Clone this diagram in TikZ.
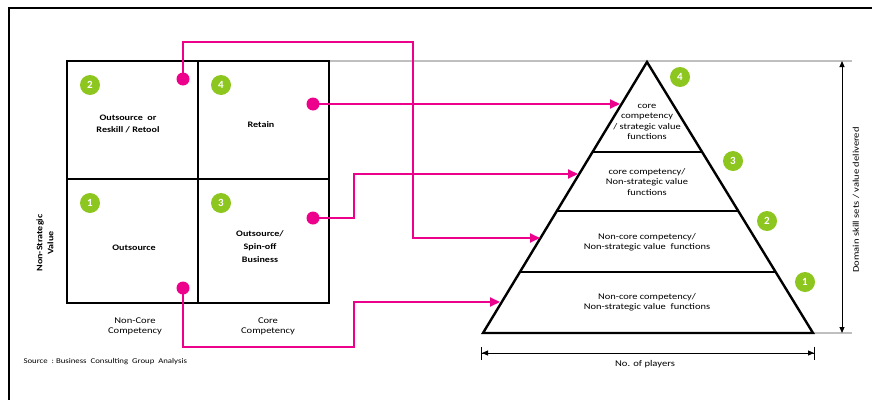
\documentclass[tikz,border=0pt]{standalone}
\usepackage{fontspec}
\setmainfont[FakeStretch=1.2]{Carlito}
\newfontfamily\badgefont{Carlito}
\usetikzlibrary{arrows.meta}
\definecolor{mag}{RGB}{236,0,140}
\definecolor{grn}{RGB}{140,198,30}
\begin{document}
\begin{tikzpicture}[x=1pt,y=-1pt,
  frame/.style={draw=black,line width=2.2pt},
  box/.style={draw=black,line width=2.6pt},
  pyr/.style={draw=black,line width=2.4pt,line join=miter},
  guide/.style={draw=black!25,line width=1.2pt},
  badge/.style={circle,fill=grn,text=white,inner sep=0pt,minimum size=20pt,font=\badgefont\fontsize{11}{12}\selectfont\bfseries},
  dot/.style={circle,fill=mag,inner sep=0pt,minimum size=13pt},
  link/.style={draw=mag,line width=1.8pt,-{Triangle[length=10pt,width=9pt]}},
  qtext/.style={align=center,font=\fontsize{8.4}{12.5}\selectfont\bfseries},
  ptext/.style={align=center,font=\fontsize{8.7}{10.5}\selectfont},
  ltext/.style={align=center,font=\fontsize{8.8}{10}\selectfont},
  dim/.style={draw=black,line width=1pt}
]
\useasboundingbox (0,0) rectangle (872,399);
\begin{scope}
  \clip (0,0) rectangle (872,399);
  \draw[frame] (9,8) rectangle (900,430);
\end{scope}

% matrix
\draw[guide] (329,61) -- (852,61);
\draw[guide] (813,333) -- (852,333);
\draw[box] (67,61) rectangle (329,303);
\draw[box] (198,61) -- (198,303);
\draw[box] (67,179) -- (329,179);

\node[badge] (q2) at (90,85) {2};
\node[badge] (q4) at (221,85) {4};
\node[badge] (q1) at (90,203) {1};
\node[badge] (q3) at (221,203) {3};

\node[qtext] (t2) at (128,124) {Outsource~~or\\Reskill / Retool};
\node[qtext] (t4) at (261,125) {Retain};
\node[qtext] (t1) at (134,248) {Outsource};
\node[qtext,font=\fontsize{8.4}{13}\selectfont\bfseries] (t3) at (260,247) {Outsource/\\Spin-off\\Business};

\node[qtext,rotate=90,font=\fontsize{8.4}{11}\selectfont\bfseries] (ns) at (45,243) {Non-Strategic\\Value};
\node[ltext] (nc) at (135,326) {Non-Core\\Competency};
\node[ltext] (cc) at (268,326) {Core\\Competency};
\node[anchor=west,font=\fontsize{7.3}{8}\selectfont] (src) at (20,362) {Source~~:~Business~~Consulting~~Group~~Analysis};

% pyramid
\coordinate (apex) at (647,62);
\coordinate (bl) at (483,333);
\coordinate (br) at (813,333);
\draw[pyr] (apex) -- (br) -- (bl) -- cycle;
\coordinate (l4a) at (593,152); \coordinate (l4b) at (701,152);
\coordinate (l3a) at (556,211); \coordinate (l3b) at (738,211);
\coordinate (l2a) at (519,272); \coordinate (l2b) at (775,272);
\draw[pyr] (l4a) -- (l4b);
\draw[pyr] (l3a) -- (l3b);
\draw[pyr] (l2a) -- (l2b);

\node[ptext] (p4) at (647,122) {core\\competency\\/ strategic value\\functions};
\node[ptext] (p3) at (647,182) {core competency/\\Non-strategic value\\functions};
\node[ptext] (p2) at (647,242) {Non-core competency/\\Non-strategic value~ functions};
\node[ptext] (p1) at (647,302) {Non-core competency/\\Non-strategic value~ functions};

\node[badge] (r4) at (680,77) {4};
\node[badge] (r3) at (733,161) {3};
\node[badge] (r2) at (767,221) {2};
\node[badge] (r1) at (805,282) {1};

% dimensions
\coordinate (vt) at (842,61);
\coordinate (vb) at (842,333);
\draw[dim,{Triangle[length=6pt,width=5pt]}-{Triangle[length=6pt,width=5pt]}] (vt) -- (vb);
\node[ltext,rotate=90] (dom) at (856,200) {Domain skill sets / value delivered};
\coordinate (hl) at (481,353);
\coordinate (hr) at (815,353);
\draw[dim,{Bar[width=13pt]Triangle[length=6pt,width=5pt]}-{Triangle[length=6pt,width=5pt]Bar[width=13pt]}] (hl) -- (hr);
\node[ltext] (np) at (645,364) {No. of players};

% connectors
\node[dot] (d2) at (183,79) {};
\node[dot] (d4) at (313,104) {};
\node[dot] (d3) at (313,218) {};
\node[dot] (d1) at (183,288) {};
\coordinate (e4) at (620,104);
\coordinate (e3) at (578,174);
\coordinate (e2) at (540,238);
\coordinate (e1) at (500,302);
\draw[link] (d2.center) -- (183,42) -- (413,42) |- (e2);
\draw[link] (d4.center) -- (e4);
\draw[link] (d3.center) -- (354,218) |- (e3);
\draw[link] (d1.center) -- (183,347) -- (354,347) |- (e1);
\end{tikzpicture}
\end{document}
